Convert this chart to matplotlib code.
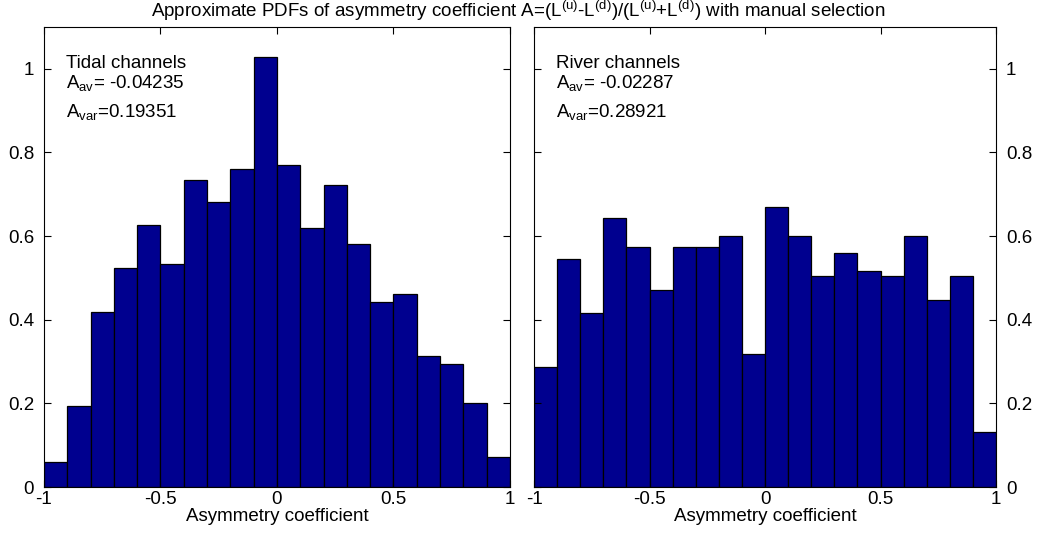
import numpy as np
import matplotlib
matplotlib.use("Agg")
import matplotlib.pyplot as plt

plt.rcParams['font.family'] = ['Liberation Sans', 'DejaVu Sans']
plt.rcParams['mathtext.default'] = 'regular'
plt.rcParams['axes.unicode_minus'] = False

# 20 equal bins over [-1, 1]
bin_edges = np.linspace(-1, 1, 21)

tidal_pdf = [0.059, 0.193, 0.418, 0.523, 0.627, 0.532, 0.735, 0.681, 0.761, 1.027,
             0.769, 0.620, 0.721, 0.580, 0.442, 0.462, 0.313, 0.294, 0.200, 0.071]
river_pdf = [0.287, 0.544, 0.416, 0.644, 0.574, 0.472, 0.574, 0.574, 0.601, 0.318,
             0.670, 0.601, 0.504, 0.560, 0.517, 0.504, 0.601, 0.446, 0.504, 0.132]

tidal_stats = ("Tidal channels", "-0.04235", "0.19351")
river_stats = ("River channels", "-0.02287", "0.28921")

xticks = [-1, -0.5, 0, 0.5, 1]
xticklabels = ["-1", "-0.5", "0", "0.5", "1"]
yticks = [0, 0.2, 0.4, 0.6, 0.8, 1]
yticklabels = ["0", "0.2", "0.4", "0.6", "0.8", "1"]

FS = 13.5
fig = plt.figure(figsize=(10.37, 5.35), dpi=100)
ax1 = fig.add_axes([0.0424, 0.0897, 0.4494, 0.860])
ax2 = fig.add_axes([0.515, 0.0897, 0.4455, 0.860])


def draw_panel(ax, pdf, stats, right=False):
    ax.bar(bin_edges[:-1], pdf, width=np.diff(bin_edges), align='edge',
           color='#00008F', edgecolor='black', linewidth=0.9)
    ax.set_xlim(-1, 1)
    ax.set_ylim(0, 1.1)
    ax.set_xticks(xticks)
    ax.set_xticklabels(xticklabels)
    ax.set_yticks(yticks)
    ax.set_yticklabels(yticklabels)
    ax.tick_params(direction='in', length=5, width=0.8, top=True, right=True,
                   labelsize=FS)
    ax.tick_params(axis='x', pad=3)
    ax.tick_params(axis='y', pad=7)
    if right:
        ax.tick_params(labelleft=False, labelright=True)
    for s in ax.spines.values():
        s.set_linewidth(0.8)
    ax.set_xlabel("Asymmetry coefficient", fontsize=FS, labelpad=0)

    name, av, var = stats
    ax.text(0.047, 0.911, name, transform=ax.transAxes, fontsize=FS, va='baseline')
    ax.text(0.047, 0.867, "A$_{av}$= " + av, transform=ax.transAxes,
            fontsize=FS, va='baseline')
    ax.text(0.047, 0.804, "A$_{var}$=" + var, transform=ax.transAxes,
            fontsize=FS, va='baseline')


draw_panel(ax1, tidal_pdf, tidal_stats)
draw_panel(ax2, river_pdf, river_stats, right=True)

fig.text(0.5, 0.968,
         "Approximate PDFs of asymmetry coefficient "
         "A=(L$^{(u)}$-L$^{(d)}$)/(L$^{(u)}$+L$^{(d)}$) with manual selection",
         ha='center', va='baseline', fontsize=FS)

fig.savefig("out.png", dpi=100)
